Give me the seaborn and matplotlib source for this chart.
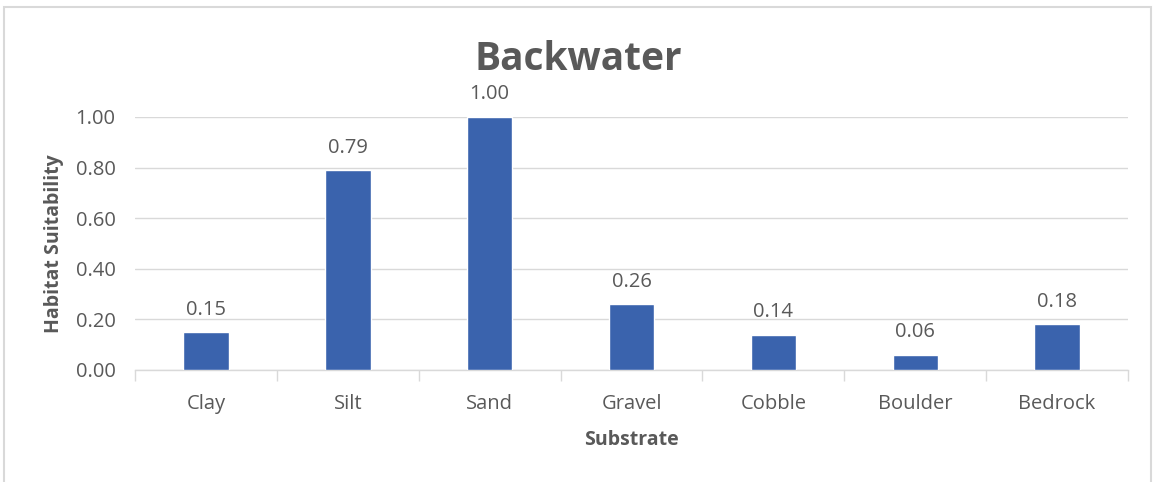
import matplotlib

matplotlib.use("Agg")
import matplotlib.pyplot as plt
import pandas as pd
import seaborn as sns
from matplotlib.patches import Rectangle
from matplotlib.ticker import FixedLocator, MultipleLocator

SUBSTRATES = ["Clay", "Silt", "Sand", "Gravel", "Cobble", "Boulder", "Bedrock"]
SUITABILITY = [0.15, 0.79, 1.00, 0.26, 0.14, 0.06, 0.18]

TEXT = "#595959"
GRID = "#D9D9D9"
BAR = "#3A63AD"

sns.set_theme(style="white")
plt.rcParams["font.family"] = ["Open Sans", "DejaVu Sans"]

df = pd.DataFrame({"Substrate": SUBSTRATES, "Suitability": SUITABILITY})

fig = plt.figure(figsize=(11.56, 4.82), dpi=100)
ax = fig.add_axes([0.1168, 0.2324, 0.8590, 0.5249])

sns.barplot(data=df, x="Substrate", y="Suitability", color=BAR, width=0.32,
            saturation=1, ax=ax, zorder=3)

ax.set_xlim(-0.5, len(SUBSTRATES) - 0.5)
ax.set_ylim(0, 1.0)
ax.yaxis.set_major_locator(MultipleLocator(0.2))
ax.yaxis.set_major_formatter(lambda v, _: f"{v:.2f}")
ax.grid(axis="y", color=GRID, linewidth=1, zorder=0)
ax.grid(axis="x", visible=False)

for side in ["top", "right", "left"]:
    ax.spines[side].set_visible(False)
ax.spines["bottom"].set_color(GRID)
ax.spines["bottom"].set_linewidth(1)

ax.xaxis.set_minor_locator(FixedLocator([i - 0.5 for i in range(len(SUBSTRATES) + 1)]))
ax.tick_params(axis="x", which="minor", bottom=True, length=8, color=GRID, width=1)
ax.tick_params(axis="x", which="major", bottom=False, pad=11, labelsize=14.5, labelcolor=TEXT)
ax.tick_params(axis="y", left=False, pad=8, labelsize=14.5, labelcolor=TEXT)

for container in ax.containers:
    ax.bar_label(container, fmt="%.2f", padding=9, fontsize=14.5, color=TEXT)

ax.set_xlabel("Substrate", fontsize=14, fontweight="bold", color=TEXT, labelpad=12)
ax.set_ylabel("Habitat Suitability", fontsize=14, fontweight="bold", color=TEXT, labelpad=8)
fig.text(0.5, 1 - 60 / 482, "Backwater", fontsize=28, fontweight="bold", color=TEXT,
         ha="center", va="center")

fig.patches.append(Rectangle((4 / 1156, -0.05), 1147 / 1156, 1.05 - 7 / 482, transform=fig.transFigure,
                             fill=False, edgecolor="#D9D9D9", linewidth=1.5))

fig.savefig("out.png", dpi=100)
